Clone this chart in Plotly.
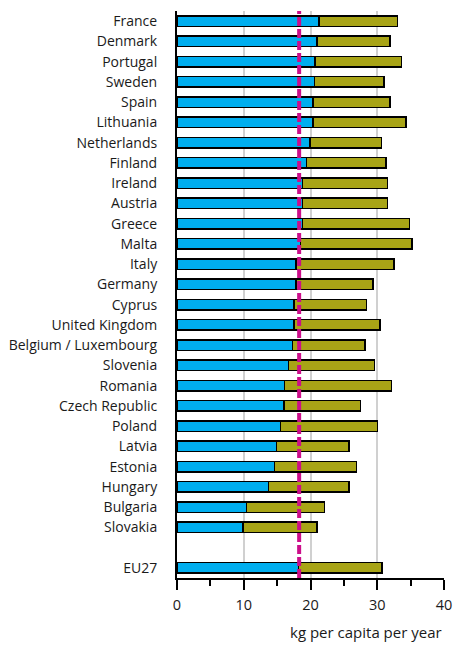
import plotly.graph_objects as go

countries = ["France", "Denmark", "Portugal", "Sweden", "Spain", "Lithuania", "Netherlands",
             "Finland", "Ireland", "Austria", "Greece", "Malta", "Italy", "Germany", "Cyprus",
             "United Kingdom", "Belgium / Luxembourg", "Slovenia", "Romania", "Czech Republic",
             "Poland", "Latvia", "Estonia", "Hungary", "Bulgaria", "Slovakia", " ", "EU27"]

blue_values = [21.3, 21.0, 20.7, 20.6, 20.4, 20.4, 19.9, 19.4, 18.8, 18.8, 18.8, 18.5, 17.8,
               17.8, 17.5, 17.5, 17.3, 16.7, 16.1, 16.0, 15.5, 14.9, 14.6, 13.7, 10.4, 9.9,
               None, 18.2]
olive_values = [11.7, 10.9, 12.9, 10.4, 11.5, 13.9, 10.7, 11.9, 12.7, 12.7, 16.0, 16.7, 14.7,
                11.6, 10.9, 12.9, 10.9, 12.9, 16.0, 11.5, 14.5, 10.9, 12.3, 12.1, 11.7, 11.1,
                None, 12.5]
reference_value = 18.3
x_ticks = [0, 10, 20, 30, 40]
x_title = "kg per capita per year"

FONT = "Open Sans"
BLUE = "#00AEEF"
OLIVE = "#A8A416"
MAGENTA = "#CC0E8A"

fig = go.Figure()
fig.add_trace(go.Bar(y=countries, x=blue_values, orientation="h", width=0.52,
                     marker=dict(color=BLUE, line=dict(color="black", width=1.5)),
                     showlegend=False))
fig.add_trace(go.Bar(y=countries, x=olive_values, orientation="h", width=0.52,
                     marker=dict(color=OLIVE, line=dict(color="black", width=1.5)),
                     showlegend=False))

fig.add_shape(type="line", xref="x", yref="paper", x0=reference_value, x1=reference_value,
              y0=0, y1=1, line=dict(color=MAGENTA, width=4, dash="9px,3px"), layer="above")

fig.add_annotation(text=x_title, xref="paper", yref="paper", x=1.0, y=-0.096,
                   xanchor="right", yanchor="middle", showarrow=False,
                   font=dict(family=FONT, size=15, color="#1a1a1a"))

# the page body has an 8px margin, so the figure is sized and offset accordingly
fig.update_layout(
    width=461, height=638,
    margin=dict(l=168.5, r=24.7, t=3, b=67.5),
    barmode="stack",
    bargap=0.48,
    plot_bgcolor="white", paper_bgcolor="white",
    font=dict(family=FONT, size=14, color="#1a1a1a"),
    xaxis=dict(range=[0, 40], tickvals=x_ticks, showgrid=True, gridcolor="#d0d0d0", gridwidth=1.5,
               showline=True, linecolor="black", linewidth=2, ticks="outside", ticklen=10,
               tickwidth=1.5, tickcolor="black", zeroline=False, automargin=False,
               ticklabelstandoff=3,
               minor=dict(dtick=5, ticks="outside", ticklen=6, tickwidth=1.5, tickcolor="black",
                          showgrid=False),
               tickfont=dict(family=FONT, size=14.5, color="#1a1a1a")),
    yaxis=dict(categoryorder="array", categoryarray=countries, autorange="reversed",
               showline=True, linecolor="black", linewidth=2, showgrid=False, ticks="",
               ticklabelstandoff=15, automargin=False,
               tickfont=dict(family=FONT, size=14, color="#1a1a1a")),
)

fig.write_html("out.html")
